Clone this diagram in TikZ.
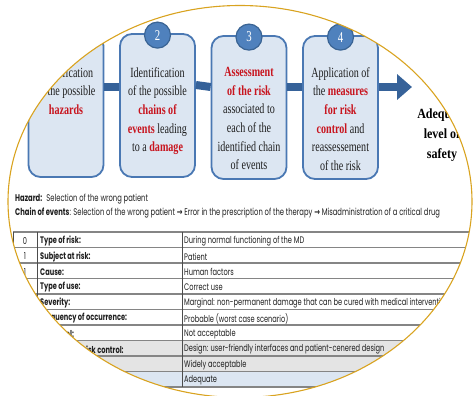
\documentclass[tikz,border=0pt]{standalone}
\usepackage{fontspec}
\setmainfont{Liberation Serif}
\newfontfamily\boxfont[FakeStretch=0.72]{Liberation Serif}
\newfontfamily\goalfont[FakeStretch=0.86]{Liberation Serif}
\newfontfamily\tabfont[FakeStretch=0.70]{Poppins}
\newfontfamily\arrowfont[FakeStretch=0.70]{DejaVu Sans}
\usetikzlibrary{arrows.meta,positioning}

\definecolor{boxfill}{HTML}{DCE6F2}
\definecolor{boxline}{HTML}{4A78B3}
\definecolor{circfill}{HTML}{4F81BD}
\definecolor{circline}{HTML}{3A6494}
\definecolor{barblue}{HTML}{366299}
\definecolor{hotred}{HTML}{C8141E}
\definecolor{gold}{HTML}{D9A320}
\definecolor{rowgrey}{HTML}{E4E4E4}
\definecolor{rowblue}{HTML}{DCE6F2}
\definecolor{rulegrey}{HTML}{858585}

\newcommand{\hot}[1]{\textcolor{hotred}{\textbf{#1}}}
\newcommand{\thento}{{\arrowfont\bfseries →}}

\tikzset{
	stepbox/.style={draw=boxline, line width=1.8pt, fill=boxfill, rounded corners=12pt,
		minimum width=75pt, minimum height=143pt, inner sep=0pt},
	steptext/.style={anchor=north, align=center, inner sep=0pt, text=black!88,
		font=\boxfont\fontsize{14}{18.7}\selectfont},
	numcirc/.style={circle, draw=circline, line width=1.2pt, fill=circfill,
		minimum size=26pt, inner sep=0pt, text=white, font=\boxfont\fontsize{15}{15}\selectfont},
	bar/.style={barblue, line width=8pt},
	cell/.style={anchor=west, inner sep=0pt, text=black!88,
		font=\tabfont\fontsize{9.5}{11}\selectfont},
	headcell/.style={cell, font=\tabfont\fontsize{9.7}{11}\selectfont},
	numcell/.style={cell, anchor=center},
	rowrule/.style={rulegrey, line width=1.1pt},
	colrule/.style={black!70, line width=0.6pt}
}

\begin{document}
\begin{tikzpicture}[x=1pt, y=-1pt]
	\useasboundingbox (0,0) rectangle (474,396);
	
	\begin{scope}
		\clip (240,201.5) ellipse [x radius=232pt, y radius=196pt];
		
		% steps
		\node[stepbox] (step1) at (66,105.5) {};
		\node[stepbox] (step2) at (157.5,105.5) {};
		\node[stepbox] (step3) at (249,107.5) {};
		\node[stepbox] (step4) at (340.5,107.5) {};
		
		\draw[bar] ([yshift=18.5pt]step1.east) -- ([yshift=18.5pt]step2.west);
		\draw[bar] ([yshift=20.5pt]step2.east) -- ([yshift=20.5pt]step3.west);
		\draw[bar] ([yshift=20.5pt]step3.east) -- ([yshift=20.5pt]step4.west);
		\coordinate (safe) at (412,87);
		\draw[bar, -{Triangle[length=15pt, width=25pt]}] (step4.east |- safe) -- (safe);
		
		\node[numcirc] (num1) at (step1.north) {1};
		\node[numcirc] (num2) at ([yshift=-2pt]step2.north) {2};
		\node[numcirc] (num3) at ([yshift=-2pt]step3.north) {3};
		\node[numcirc] (num4) at ([yshift=-2pt]step4.north) {4};
		
		\node[steptext] (text1) at (66,67) {Identification\\of the possible\\\hot{hazards}};
		\node[steptext] (text2) at (157.5,67) {Identification\\of the possible\\\hot{chains of}\\\hot{events} leading\\to a \hot{damage}};
		\node[steptext] (text3) at (249,67) {\hot{Assessment}\\\hot{of the risk}\\associated to\\each of the\\identified chain\\of events};
		\node[steptext] (text4) at (340.5,67) {Application of\\the \hot{measures}\\\hot{for risk}\\\hot{control} and\\reassessement\\of the risk};
		
		\node[align=center, inner sep=0pt, font=\goalfont\bfseries\fontsize{14}{20}\selectfont] (goal) at (442,135) {Adequate\\level of\\safety};
		
		% example
		\node[headcell] (hazard) at (15,199) {\textbf{Hazard:} \ Selection of the wrong patient};
		\node[headcell] (chain) at (15,213) {\textbf{Chain of events}: Selection of the wrong patient \thento{} Error in the prescription of the therapy \thento{} Misadministration of a critical drug};
		
		% table
		\fill[rowgrey] (13,340.5) rectangle (480,371.5);
		\fill[rowblue] (13,371.5) rectangle (480,387);
		
		\draw[rowrule] (13,232) -- (480,232);
		\draw[rowrule] (13,247.5) -- (480,247.5);
		\draw[rowrule] (13,263) -- (480,263);
		\draw[rowrule] (13,278.5) -- (480,278.5);
		\draw[rowrule] (13,294) -- (480,294);
		\draw[rowrule] (13,309.5) -- (480,309.5);
		\draw[rowrule] (13,325) -- (480,325);
		\draw[rowrule] (13,340.5) -- (480,340.5);
		\draw[rowrule] (13,356) -- (480,356);
		\draw[rowrule] (13,371.5) -- (480,371.5);
		\draw[rowrule] (13,387) -- (480,387);
		\draw[colrule] (13,232) -- (13,387);
		\draw[colrule] (37,232) -- (37,387);
		\draw[colrule] (182,232) -- (182,387);
		
		\node[numcell] (n0) at (25,241) {0};
		\node[numcell] (n1) at (25,256.5) {1};
		\node[numcell] (n2) at (25,272) {1};
		
		\node[cell] (k0) at (40,241) {\textbf{Type of risk:}};
		\node[cell] (k1) at (40,256.5) {\textbf{Subject at risk:}};
		\node[cell] (k2) at (40,272) {\textbf{Cause:}};
		\node[cell] (k3) at (40,287.5) {\textbf{Type of use:}};
		\node[cell] (k4) at (40,303) {\textbf{Severity:}};
		\node[cell] (k5) at (40,318.5) {\textbf{Frequency of occurrence:}};
		\node[cell] (k6) at (40,334) {\textbf{Risk level:}};
		\node[cell] (k7) at (40,349.5) {\textbf{Measures of risk control:}};
		
		\node[cell] (v0) at (184,241) {During normal functioning of the MD};
		\node[cell] (v1) at (184,256.5) {Patient};
		\node[cell] (v2) at (184,272) {Human factors};
		\node[cell] (v3) at (184,287.5) {Correct use};
		\node[cell] (v4) at (184,303) {Marginal: non-permanent damage that can be cured with medical intervention};
		\node[cell] (v5) at (184,318.5) {Probable (worst case scenario)};
		\node[cell] (v6) at (184,334) {Not acceptable};
		\node[cell] (v7) at (184,349.5) {Design: user-friendly interfaces and patient-cenered design};
		\node[cell] (v8) at (184,365) {Widely acceptable};
		\node[cell] (v9) at (184,380.5) {Adequate};
	\end{scope}
	
	\draw[gold, line width=1.1pt] (240,201.5) ellipse [x radius=232pt, y radius=196pt];
\end{tikzpicture}
\end{document}
